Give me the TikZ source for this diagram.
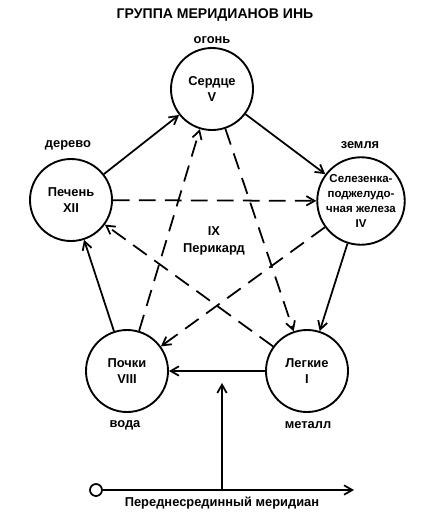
\documentclass[tikz,border=0pt]{standalone}
\usepackage{fontspec}
\setmainfont{Liberation Sans}
\usetikzlibrary{arrows.meta}

\begin{document}
\begin{tikzpicture}[x=0.03cm, y=-0.03cm, font=\bfseries\fontsize{11}{14}\selectfont,
  organ/.style={circle, draw, line width=1.6pt, minimum size=2.46cm, inner sep=0pt, align=center},
  gen/.style={line width=1.5pt, -{Straight Barb[length=7pt, width=8pt, line width=1.5pt]}},
  ctrl/.style={gen, dash pattern=on 0.5cm off 0.28cm}]
\useasboundingbox (0,0) rectangle (433,521);
\node (title) at (215,15) {\fontsize{12}{14}\selectfont ГРУППА МЕРИДИАНОВ ИНЬ};
% organs
\node[organ] (heart) at (212,89) {Сердце\\V};
\node[organ] (liver) at (71,200) {Печень\\XII};
\node[organ, font=\bfseries\fontsize{9.8}{12.8}\selectfont] (spleen) at (361,201) {Селезенка-\\поджелудо-\\чная железа\\IV};
\node[organ] (kidney) at (127,371) {Почки\\VIII};
\node[organ] (lung) at (307,371) {Легкие\\I};
\node[align=center] (pericard) at (214,241) {IX\\Перикард};
% elements
\node (fire) at (212,40) {огонь};
\node (wood) at (68,145) {дерево};
\node (earth) at (360,145) {земля};
\node (water) at (125,425) {вода};
\node (metal) at (308,425) {металл};
% generation
\draw[gen] (liver) -- (heart);
\draw[gen] (heart) -- (spleen);
\draw[gen] (spleen) -- (lung);
\draw[gen] (lung) -- (kidney);
\draw[gen] (kidney) -- (liver);
% control
\draw[ctrl] (liver) -- (spleen);
\draw[ctrl] (spleen) -- (kidney);
\draw[ctrl] (kidney) -- (heart);
\draw[ctrl] (heart) -- (lung);
\draw[ctrl] (lung) -- (liver);
% meridian
\node[circle, draw, line width=1.5pt, minimum size=0.36cm, inner sep=0pt] (start) at (96,490) {};
\coordinate (end) at (354,490);
\coordinate (foot) at (222,490);
\coordinate (tip) at (222,383);
\draw[gen] (start) -- (end);
\draw[gen] (foot) -- (tip);
\node (meridian) at (222,503) {Переднесрединный меридиан};
\end{tikzpicture}
\end{document}
